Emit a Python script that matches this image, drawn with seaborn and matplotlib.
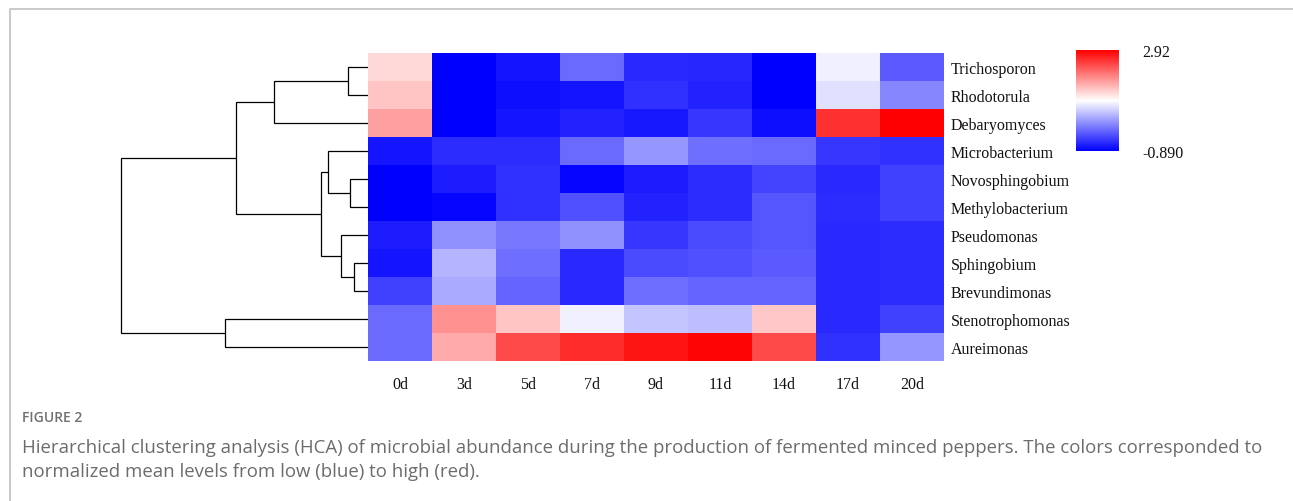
import numpy as np
import pandas as pd
import matplotlib
matplotlib.use("Agg")
import matplotlib.pyplot as plt
import seaborn as sns
from matplotlib.lines import Line2D

# ---------------- data ----------------
rows = ["Trichosporon", "Rhodotorula", "Debaryomyces", "Microbacterium",
        "Novosphingobium", "Methylobacterium", "Pseudomonas", "Sphingobium",
        "Brevundimonas", "Stenotrophomonas", "Aureimonas"]
cols = ["0d", "3d", "5d", "7d", "9d", "11d", "14d", "17d", "20d"]

trichosporon     = [1.31, -0.89, -0.74, -0.10, -0.59, -0.60, -0.89, 0.91, -0.22]
rhodotorula      = [1.46, -0.89, -0.78, -0.74, -0.52, -0.63, -0.89, 0.79, 0.12]
debaryomyces     = [1.72, -0.89, -0.74, -0.63, -0.70, -0.48, -0.78, 2.55, 2.92]
microbacterium   = [-0.74, -0.55, -0.55, -0.10, 0.23, -0.07, -0.10, -0.48, -0.52]
novosphingobium  = [-0.89, -0.67, -0.52, -0.85, -0.67, -0.55, -0.37, -0.59, -0.40]
methylobacterium = [-0.89, -0.85, -0.52, -0.29, -0.63, -0.55, -0.25, -0.55, -0.40]
pseudomonas      = [-0.67, 0.19, 0.01, 0.19, -0.48, -0.33, -0.25, -0.59, -0.55]
sphingobium      = [-0.74, 0.45, -0.07, -0.59, -0.33, -0.29, -0.22, -0.59, -0.55]
brevundimonas    = [-0.40, 0.38, -0.14, -0.59, -0.07, -0.14, -0.14, -0.59, -0.55]
stenotrophomonas = [-0.10, 1.84, 1.46, 0.91, 0.57, 0.53, 1.42, -0.59, -0.40]
aureimonas       = [-0.10, 1.65, 2.36, 2.58, 2.77, 2.88, 2.36, -0.52, 0.23]

vmin, vmax = -0.890, 2.92
cbar_labels = ["-0.890", "2.92"]

# dendrogram merges: (child a, child b, merge height)
merge_a = ["Trichosporon", "C1", "Novosphingobium", "Microbacterium", "Sphingobium",
           "Pseudomonas", "C4", "C2", "Stenotrophomonas", "C8"]
merge_b = ["Rhodotorula", "Debaryomyces", "Methylobacterium", "C3", "Brevundimonas",
           "C5", "C6", "C7", "Aureimonas", "C9"]
merge_h = [20, 94, 18, 40, 14.5, 27, 47, 132, 143, 247]

caption_title = "FIGURE 2"
caption_lines = [
    "Hierarchical clustering analysis (HCA) of microbial abundance during the production of fermented minced peppers. The colors corresponded to",
    "normalized mean levels from low (blue) to high (red).",
]

# ---------------- figure ----------------
W, H = 1293, 502
fig = plt.figure(figsize=(W / 100, H / 100), dpi=100)
fig.patch.set_facecolor("white")


def ax_px(l, t, r, b):
    return fig.add_axes([l / W, 1 - b / H, (r - l) / W, (b - t) / H])


hm_ax = ax_px(368, 54, 944, 362)
cax = ax_px(1076, 51, 1119, 152)
den_ax = ax_px(100, 54, 368, 362)

df = pd.DataFrame([trichosporon, rhodotorula, debaryomyces, microbacterium,
                   novosphingobium, methylobacterium, pseudomonas, sphingobium,
                   brevundimonas, stenotrophomonas, aureimonas],
                  index=rows, columns=cols)

serif = "Liberation Serif"
sns.heatmap(df, ax=hm_ax, cmap="bwr", vmin=vmin, vmax=vmax, cbar_ax=cax,
            xticklabels=True, yticklabels=True)

hm_ax.yaxis.tick_right()
hm_ax.tick_params(axis="y", length=0, pad=5, labelright=True, labelleft=False)
hm_ax.tick_params(axis="x", length=0, pad=11)
for t in hm_ax.get_yticklabels():
    t.set_rotation(0)
    t.set_fontfamily(serif)
    t.set_fontsize(11.5)
    t.set_color("#111111")
for t in hm_ax.get_xticklabels():
    t.set_rotation(0)
    t.set_fontfamily(serif)
    t.set_fontsize(11.5)
    t.set_color("#111111")
hm_ax.set_xlabel("")
hm_ax.set_ylabel("")

cbar = hm_ax.collections[0].colorbar
cbar.set_ticks([vmin, vmax])
cbar.set_ticklabels(cbar_labels)
cbar.ax.tick_params(length=0, pad=17)
cbar.outline.set_visible(False)
for t in cbar.ax.get_yticklabels():
    t.set_fontfamily(serif)
    t.set_fontsize(11.5)
    t.set_color("#111111")

# ---------------- dendrogram ----------------
pos = {name: i + 0.5 for i, name in enumerate(rows)}
hgt = {name: 0.0 for name in rows}
for k, (a, b, h) in enumerate(zip(merge_a, merge_b, merge_h)):
    xs = [hgt[a], h, h, hgt[b]]
    ys = [pos[a], pos[a], pos[b], pos[b]]
    den_ax.plot(xs, ys, color="black", lw=0.9, solid_capstyle="butt",
                solid_joinstyle="miter")
    name = f"C{k + 1}"
    pos[name] = (pos[a] + pos[b]) / 2
    hgt[name] = h
den_ax.set_xlim(268, 0)
den_ax.set_ylim(len(rows), 0)
den_ax.axis("off")

# ---------------- frame & caption ----------------
frame_c = "#c9c9c9"
fig.add_artist(Line2D([10 / W, 10 / W, 1.0], [0.0, 1 - 10 / H, 1 - 10 / H],
                      transform=fig.transFigure, color=frame_c, lw=1.4))

cap_font = "Open Sans"
fig.text(22 / W, 1 - 418 / H, caption_title, fontfamily=cap_font, fontsize=10,
         fontweight="semibold", color="#707070", va="center", ha="left")
for i, line in enumerate(caption_lines):
    fig.text(22 / W, 1 - (448 + 24 * i) / H, line, fontfamily=cap_font,
             fontsize=13.4, color="#6c6c6c", va="center", ha="left")

fig.savefig("out.png", dpi=100, facecolor="white")
